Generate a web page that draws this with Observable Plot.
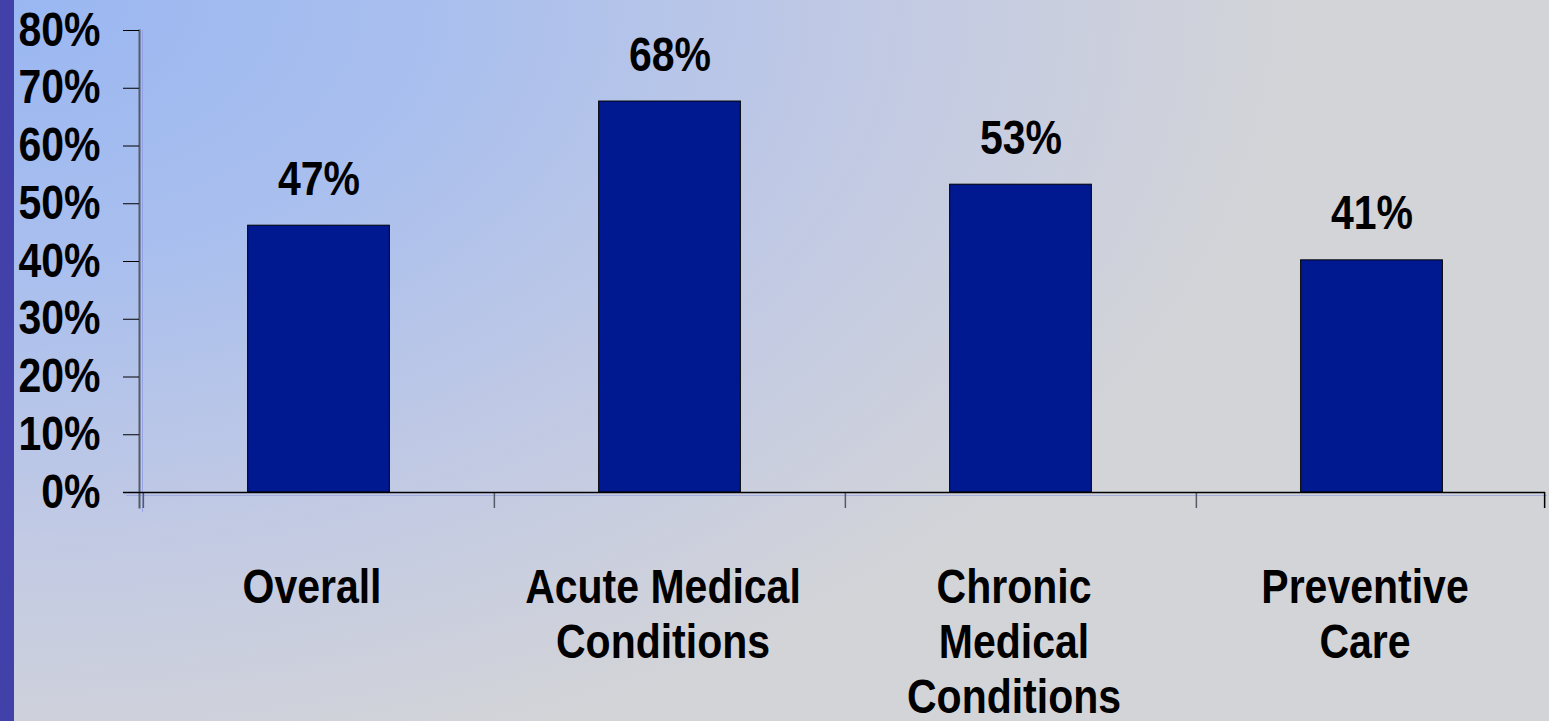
<!DOCTYPE html>
<html><head><meta charset="utf-8">
<script src="https://cdn.jsdelivr.net/npm/d3@7"></script>
<script src="https://cdn.jsdelivr.net/npm/@observablehq/plot@0.6"></script>
<style>
html,body{margin:0;padding:0;}
body{width:1549px;height:721px;overflow:hidden;background:
 linear-gradient(to right,#4141a9 0,#4141a9 14px,transparent 14px),
 radial-gradient(ellipse 95% 125% at 0% 0%, #9ab7f2 0%, #a9bfee 30%, #c2cae4 60%, #d3d4d8 88%);}
#chart svg{display:block;}
</style></head><body><div id="chart"></div>
<script>
const categories = ["Overall", "Acute Medical\nConditions", "Chronic\nMedical\nConditions", "Preventive\nCare"];
const values = [46.2, 67.7, 53.3, 40.2];
const valueLabels = ["47%", "68%", "53%", "41%"];
const yTicks = [0, 10, 20, 30, 40, 50, 60, 70, 80];

const data = categories.map((c, i) => ({category: c, value: values[i], label: valueLabels[i]}));
const lineRows = categories.flatMap(c => c.split("\n").map((t, i) => ({category: c, line: i, text: t})));
const W = 1549, H = 721, mL = 142, mR = 2, mT = 30, mB = 229;
const bw = (W - mL - mR) / categories.length;
const barInset = (bw - 142) / 2;
const frameH = H - mT - mB;
const lineMarks = [0, 1, 2].map(k => Plot.text(lineRows.filter(r => r.line === k), {
  x: "category", text: "text", frameAnchor: "bottom", lineAnchor: "bottom", dy: 110 + k * 55, dx: -7, fill: "#000"
}));

const chart = Plot.plot({
  width: W, height: H, marginLeft: mL, marginRight: mR, marginTop: mT, marginBottom: mB,
  style: {background: "transparent", fontFamily: "'Liberation Sans', Arial, sans-serif", fontSize: "41px", fontWeight: "bold", color: "#000", overflow: "visible"},
  x: {domain: categories, padding: 0, axis: null},
  y: {domain: [0, 80], axis: null},
  marks: [
    Plot.barY(data, {x: "category", y: "value", fill: "#001890", stroke: "#000", strokeWidth: 1, insetLeft: barInset, insetRight: barInset}),
    Plot.frame({anchor: "left", dx: 0, insetBottom: -19, stroke: "#8d9be6", strokeOpacity: 0.8}),
    Plot.ruleY([0], {dy: 3, insetLeft: -16, stroke: "#9aa4de", strokeOpacity: 0.8}),
    Plot.frame({anchor: "left", dx: -3, insetBottom: -15, stroke: "#555a66", strokeWidth: 2}),
    Plot.axisY({ticks: yTicks, tickFormat: d => d + "%", tickSize: 16, tickPadding: 23, dx: -3, label: null, stroke: "#000", fill: "#000"}),
    Plot.ruleX(categories, {x: d => d, dx: -bw / 2, insetTop: frameH, insetBottom: -16, stroke: "#555a66", strokeWidth: 1.5}),
    Plot.ruleX(categories.slice(-1), {x: d => d, dx: bw / 2 - 3, insetTop: frameH, insetBottom: -16, stroke: "#000", strokeWidth: 1.5}),
    Plot.ruleY([0], {insetLeft: -19, insetRight: 2, stroke: "#000", strokeWidth: 1.5}),
    Plot.text(data, {x: "category", y: "value", text: "label", lineAnchor: "bottom", dy: -31, fill: "#000"}),
    ...lineMarks
  ]
});
// stretch glyphs vertically (the reference's bold type is slightly tall)
chart.querySelectorAll("text").forEach(t => {
  const tr = t.getAttribute("transform");
  if (tr) t.setAttribute("transform", tr + " scale(1,1.15)");
});
document.getElementById("chart").append(chart);
</script>
</body></html>
